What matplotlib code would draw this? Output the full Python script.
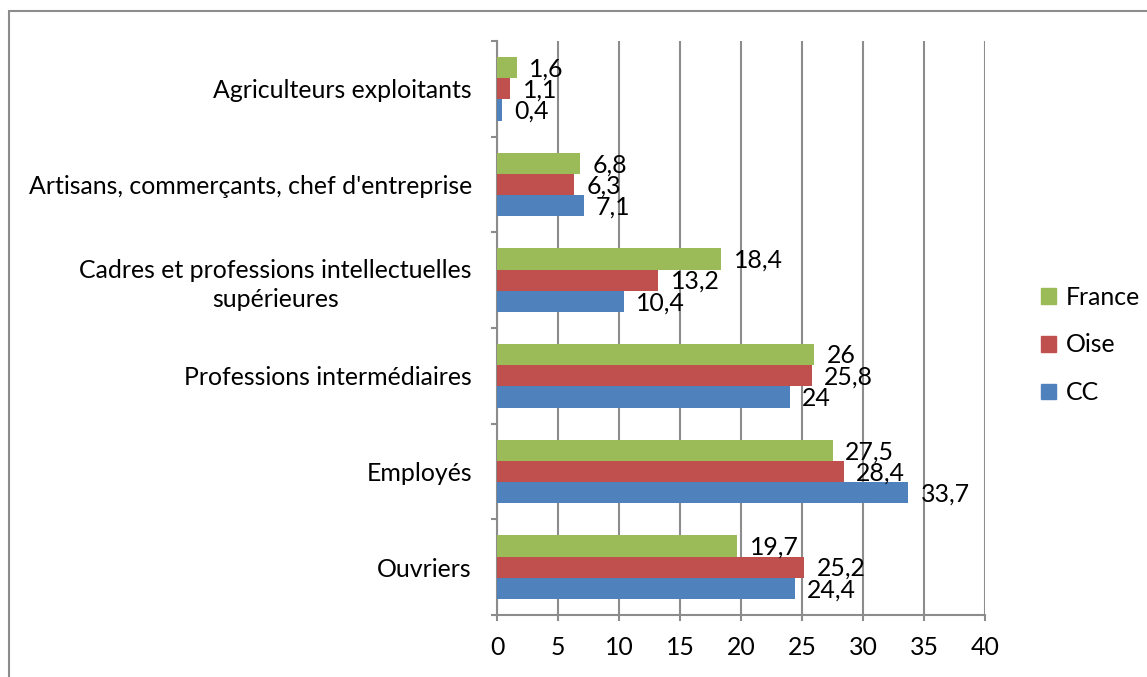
import matplotlib
matplotlib.use("Agg")
import matplotlib.pyplot as plt
from matplotlib.patches import Rectangle, Patch
import numpy as np

plt.rcParams['font.family'] = ['Lato', 'DejaVu Sans']

categories = ["Ouvriers", "Employés", "Professions intermédiaires",
              "Cadres et professions intellectuelles\nsupérieures",
              "Artisans, commerçants, chef d'entreprise",
              "Agriculteurs exploitants"]
cc = [24.4, 33.7, 24, 10.4, 7.1, 0.4]
oise = [25.2, 28.4, 25.8, 13.2, 6.3, 1.1]
france = [19.7, 27.5, 26, 18.4, 6.8, 1.6]
cc_labels = ["24,4", "33,7", "24", "10,4", "7,1", "0,4"]
oise_labels = ["25,2", "28,4", "25,8", "13,2", "6,3", "1,1"]
france_labels = ["19,7", "27,5", "26", "18,4", "6,8", "1,6"]
xticks = [0, 5, 10, 15, 20, 25, 30, 35, 40]

c_blue = "#4F81BD"
c_red = "#C0504D"
c_green = "#9BBB59"
grid_c = "#8C8C8C"
FS = 17.9

fig = plt.figure(figsize=(11.47, 6.77), dpi=100)
ax = fig.add_axes([0.4333, 0.0916, 0.8588 - 0.4333, 0.9394 - 0.0916])

# outer frame
fig.patches.append(Rectangle((8.5 / 1147, -0.1), 1.2, 1 - 10.5 / 677 + 0.1,
                             transform=fig.transFigure, fill=False,
                             edgecolor="#8C8C8C", linewidth=1.5, zorder=0))

y = np.arange(len(categories))
h = 1 / 4.5
series = [(cc, cc_labels, c_blue, -h, "CC"),
          (oise, oise_labels, c_red, 0, "Oise"),
          (france, france_labels, c_green, h, "France")]
for vals, labs, col, off, name in series:
    bars = ax.barh(y + off, vals, height=h, color=col, zorder=3, label=name)
    for b, lab in zip(bars, labs):
        ax.annotate(lab, (b.get_width(), b.get_y() + b.get_height() / 2),
                    xytext=(9, -1), textcoords="offset points",
                    ha="left", va="center", fontsize=FS, color="black", zorder=4)

ax.set_xlim(0, 40)
ax.set_ylim(-0.5, len(categories) - 0.5)
ax.set_xticks(xticks)
ax.set_xticklabels([str(t) for t in xticks], fontsize=FS)
ax.set_yticks(y)
ax.set_yticklabels(categories, fontsize=FS, multialignment="center", linespacing=1.3)
ax.set_yticks(np.arange(-0.5, len(categories)), minor=True)
ax.tick_params(axis="y", which="major", length=0, pad=18)
ax.tick_params(axis="y", which="minor", length=4, width=1.5, color=grid_c, direction="out")
ax.tick_params(axis="x", which="major", length=4, width=1.5, color=grid_c, direction="out", pad=11)
ax.xaxis.grid(True, color=grid_c, linewidth=1.5, zorder=0)
ax.set_axisbelow(True)
for s in ["top", "right"]:
    ax.spines[s].set_visible(False)
for s in ["left", "bottom"]:
    ax.spines[s].set_color(grid_c)
    ax.spines[s].set_linewidth(1.5)

handles = [Patch(color=c_green), Patch(color=c_red), Patch(color=c_blue)]
fig.legend(handles, ["France", "Oise", "CC"], loc="center left",
           bbox_to_anchor=(1019 / 1147, 1 - 345 / 677), frameon=False,
           fontsize=FS, handlelength=0.6, handleheight=0.6, handletextpad=0.4,
           labelspacing=1.0)

fig.savefig("out.png", dpi=100)
